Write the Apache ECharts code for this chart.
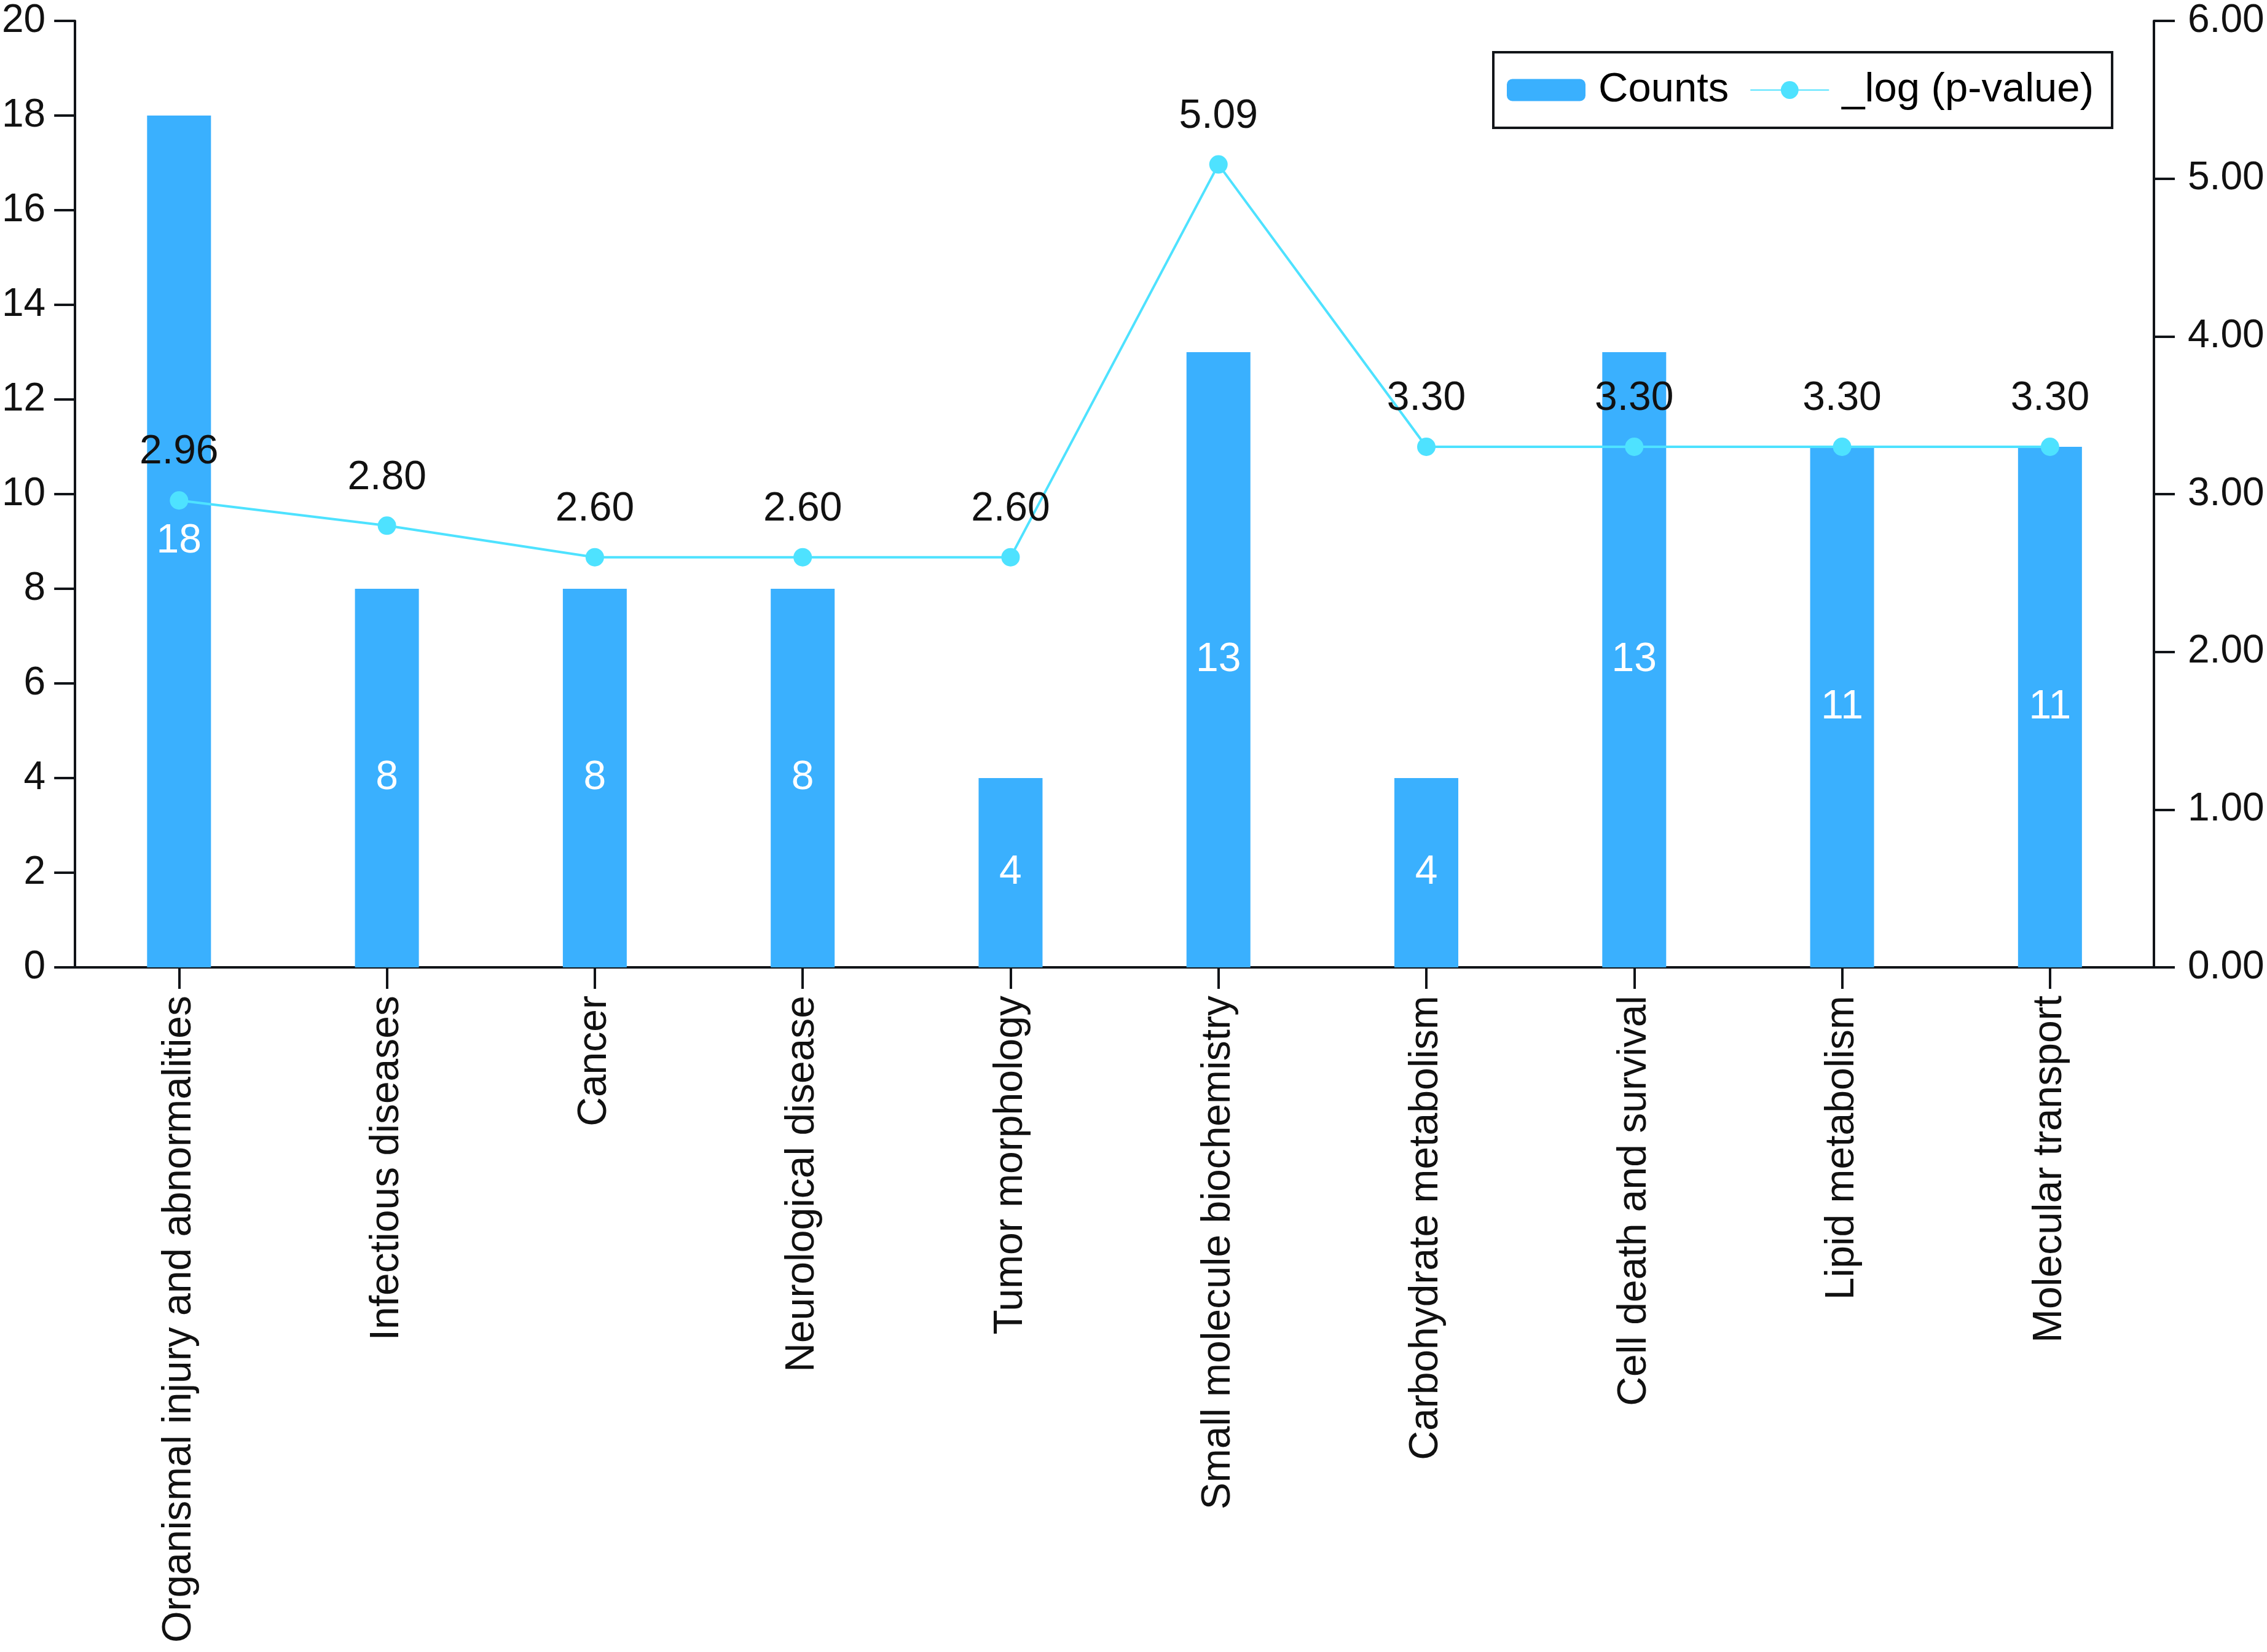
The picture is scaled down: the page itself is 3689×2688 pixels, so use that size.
<!DOCTYPE html>
<html>
<head>
<meta charset="utf-8">
<script src="https://cdn.jsdelivr.net/npm/echarts@6/dist/echarts.min.js"></script>
<style>
html,body{margin:0;padding:0;background:#fff;}
#chart{width:3689px;height:2688px;}
</style>
</head>
<body>
<div id="chart"></div>
<script>
const categories = [
  "Organismal injury and abnormalities",
  "Infectious diseases",
  "Cancer",
  "Neurological disease",
  "Tumor morphology",
  "Small molecule biochemistry",
  "Carbohydrate metabolism",
  "Cell death and survival",
  "Lipid metabolism",
  "Molecular transport"
];
const counts = [18, 8, 8, 8, 4, 13, 4, 13, 11, 11];
const logP = [2.96, 2.80, 2.60, 2.60, 2.60, 5.09, 3.30, 3.30, 3.30, 3.30];

const FONT = "'Liberation Sans', Arial, Helvetica, sans-serif";
const AXIS_COLOR = '#111418';
const BAR_COLOR = '#3AB0FE';
const LINE_COLOR = '#4EE2FF';

const chart = echarts.init(document.getElementById('chart'), null, {renderer: 'canvas'});
chart.setOption({
  backgroundColor: '#ffffff',
  animation: false,
  textStyle: {fontFamily: FONT},
  grid: {left: 120, right: 184, top: 34, bottom: 1114, containLabel: false},
  legend: {
    left: 2430, top: 85,
    orient: 'horizontal',
    borderColor: AXIS_COLOR, borderWidth: 4,
    padding: [28, 30, 28, 22],
    itemGap: 34,
    itemWidth: 128, itemHeight: 36,
    textStyle: {fontSize: 67, color: '#000', fontFamily: FONT, padding: [0, 0, 0, 16]},
    data: ['Counts', '_log (p-value)']
  },
  xAxis: {
    type: 'category',
    data: categories,
    axisLine: {show: true, lineStyle: {color: AXIS_COLOR, width: 4}},
    axisTick: {show: true, alignWithLabel: true, length: 35, lineStyle: {color: AXIS_COLOR, width: 4}},
    axisLabel: {rotate: 90, margin: 46, fontSize: 66, color: '#111', fontFamily: FONT, interval: 0},
    splitLine: {show: false}
  },
  yAxis: [
    {
      type: 'value', min: 0, max: 20, interval: 2,
      axisLine: {show: true, lineStyle: {color: AXIS_COLOR, width: 4}},
      axisTick: {show: true, length: 34, lineStyle: {color: AXIS_COLOR, width: 4}},
      axisLabel: {margin: 48, fontSize: 64, color: '#111', fontFamily: FONT},
      splitLine: {show: false}
    },
    {
      type: 'value', min: 0, max: 6, interval: 1, position: 'right',
      axisLine: {show: true, lineStyle: {color: AXIS_COLOR, width: 4}},
      axisTick: {show: true, length: 34, lineStyle: {color: AXIS_COLOR, width: 4}},
      axisLabel: {margin: 55, fontSize: 64, color: '#111', fontFamily: FONT,
        formatter: v => v.toFixed(2)},
      splitLine: {show: false}
    }
  ],
  series: [
    {
      name: 'Counts',
      type: 'bar',
      data: counts,
      barWidth: 104,
      itemStyle: {color: BAR_COLOR},
      label: {show: true, position: 'inside', color: '#fff', fontSize: 66, fontFamily: FONT},
      z: 2
    },
    {
      name: '_log (p-value)',
      type: 'line',
      yAxisIndex: 1,
      data: logP,
      symbol: 'circle',
      symbolSize: 30,
      lineStyle: {color: LINE_COLOR, width: 4},
      itemStyle: {color: LINE_COLOR},
      label: {show: true, position: 'top', distance: 30, color: '#111', fontSize: 66, fontFamily: FONT,
        formatter: p => p.value.toFixed(2)},
      z: 3
    }
  ]
});
</script>
</body>
</html>
